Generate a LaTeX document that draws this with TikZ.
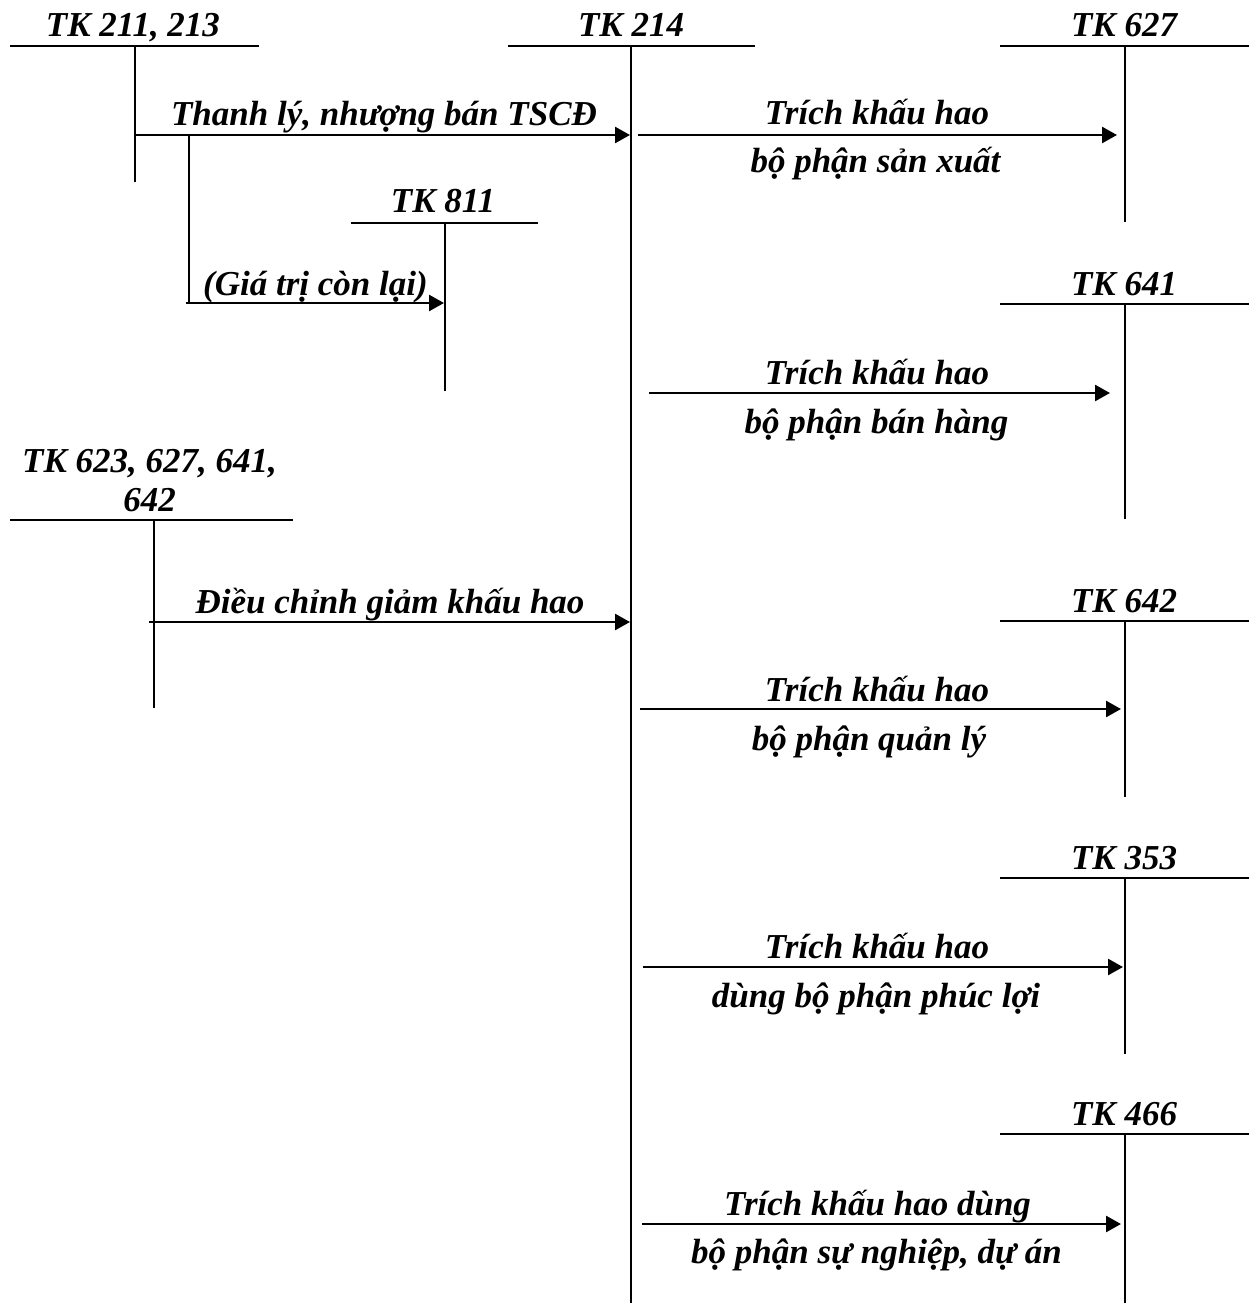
\documentclass[tikz,border=0pt]{standalone}
\usepackage{fontspec}
\setmainfont{Liberation Serif}
\usetikzlibrary{arrows.meta}
\begin{document}
\begin{tikzpicture}[x=1pt,y=-1pt,
  tline/.style={line width=1.8pt},
  flow/.style={line width=2.6pt,-{Triangle[length=15pt,width=16pt]}},
  lbl/.style={font=\fontsize{35}{40}\selectfont\bfseries\itshape,anchor=base,inner sep=0pt}]
\useasboundingbox (0,0) rectangle (1249,1305);
% ---- T accounts ----
% TK 211, 213
\coordinate (aL) at (10,46); \coordinate (aR) at (259,46);
\coordinate (aT) at (135,46); \coordinate (aB) at (135,182);
\node[lbl] (aLab) at (133,37) {TK 211, 213};
% TK 214
\coordinate (bL) at (508,46); \coordinate (bR) at (755,46);
\coordinate (bT) at (631,46); \coordinate (bB) at (631,1303);
\node[lbl] (bLab) at (631,37) {TK 214};
% TK 627
\coordinate (cL) at (1000,46); \coordinate (cR) at (1249,46);
\coordinate (cT) at (1125,46); \coordinate (cB) at (1125,222);
\node[lbl] (cLab) at (1124,37) {TK 627};
% TK 811
\coordinate (dL) at (351,223); \coordinate (dR) at (538,223);
\coordinate (dT) at (445,223); \coordinate (dB) at (445,391);
\node[lbl] (dLab) at (443,213) {TK 811};
% TK 641
\coordinate (eL) at (1000,304); \coordinate (eR) at (1249,304);
\coordinate (eT) at (1125,304); \coordinate (eB) at (1125,519);
\node[lbl] (eLab) at (1124,295) {TK 641};
% TK 623, 627, 641, 642
\coordinate (fL) at (10,520); \coordinate (fR) at (293,520);
\coordinate (fT) at (154,520); \coordinate (fB) at (154,708);
\node[lbl] (fLab1) at (149.5,472) {TK 623, 627, 641,};
\node[lbl] (fLab2) at (149.5,511) {642};
% TK 642
\coordinate (gL) at (1000,621); \coordinate (gR) at (1249,621);
\coordinate (gT) at (1125,621); \coordinate (gB) at (1125,797);
\node[lbl] (gLab) at (1124,612) {TK 642};
% TK 353
\coordinate (hL) at (1000,878); \coordinate (hR) at (1249,878);
\coordinate (hT) at (1125,878); \coordinate (hB) at (1125,1054);
\node[lbl] (hLab) at (1124,869) {TK 353};
% TK 466
\coordinate (iL) at (1000,1134); \coordinate (iR) at (1249,1134);
\coordinate (iT) at (1125,1134); \coordinate (iB) at (1125,1303);
\node[lbl] (iLab) at (1124,1125) {TK 466};
\foreach \k in {a,b,c,d,e,f,g,h,i}{
  \draw[tline] (\k L) -- (\k R);
  \draw[tline] (\k T) -- (\k B);
}
% ---- flows ----
\coordinate (s1) at (135,135); \coordinate (e1) at (630,135);
\draw[flow] (s1) -- (e1);
\node[lbl] (t1) at (384,126) {Thanh lý, nhượng bán TSCĐ};
\coordinate (s2a) at (188.6,135); \coordinate (s2) at (188.6,303);
\draw[tline] (s2a) -- (s2);
\coordinate (s2b) at (186,303); \coordinate (e2) at (444,303);
\draw[flow] (s2b) -- (e2);
\node[lbl] (t2) at (315.5,295) {(Giá trị còn lại)};
\coordinate (s3) at (638,135); \coordinate (e3) at (1117,135);
\draw[flow] (s3) -- (e3);
\node[lbl] (t3a) at (877,125) {Trích khấu hao};
\node[lbl] (t3b) at (875.5,173) {bộ phận sản xuất};
\coordinate (s4) at (649,393); \coordinate (e4) at (1110,393);
\draw[flow] (s4) -- (e4);
\node[lbl] (t4a) at (877,384) {Trích khấu hao};
\node[lbl] (t4b) at (876.5,433) {bộ phận bán hàng};
\coordinate (s5) at (149,622); \coordinate (e5) at (630,622);
\draw[flow] (s5) -- (e5);
\node[lbl] (t5) at (390,613) {Điều chỉnh giảm khấu hao};
\coordinate (s6) at (640,709); \coordinate (e6) at (1121,709);
\draw[flow] (s6) -- (e6);
\node[lbl] (t6a) at (877,701) {Trích khấu hao};
\node[lbl] (t6b) at (869,750) {bộ phận quản lý};
\coordinate (s7) at (643,967); \coordinate (e7) at (1123,967);
\draw[flow] (s7) -- (e7);
\node[lbl] (t7a) at (877,958) {Trích khấu hao};
\node[lbl] (t7b) at (876,1007) {dùng bộ phận phúc lợi};
\coordinate (s8) at (642,1224); \coordinate (e8) at (1121,1224);
\draw[flow] (s8) -- (e8);
\node[lbl] (t8a) at (877.5,1215) {Trích khấu hao dùng};
\node[lbl] (t8b) at (876.5,1263) {bộ phận sự nghiệp, dự án};
\end{tikzpicture}
\end{document}
